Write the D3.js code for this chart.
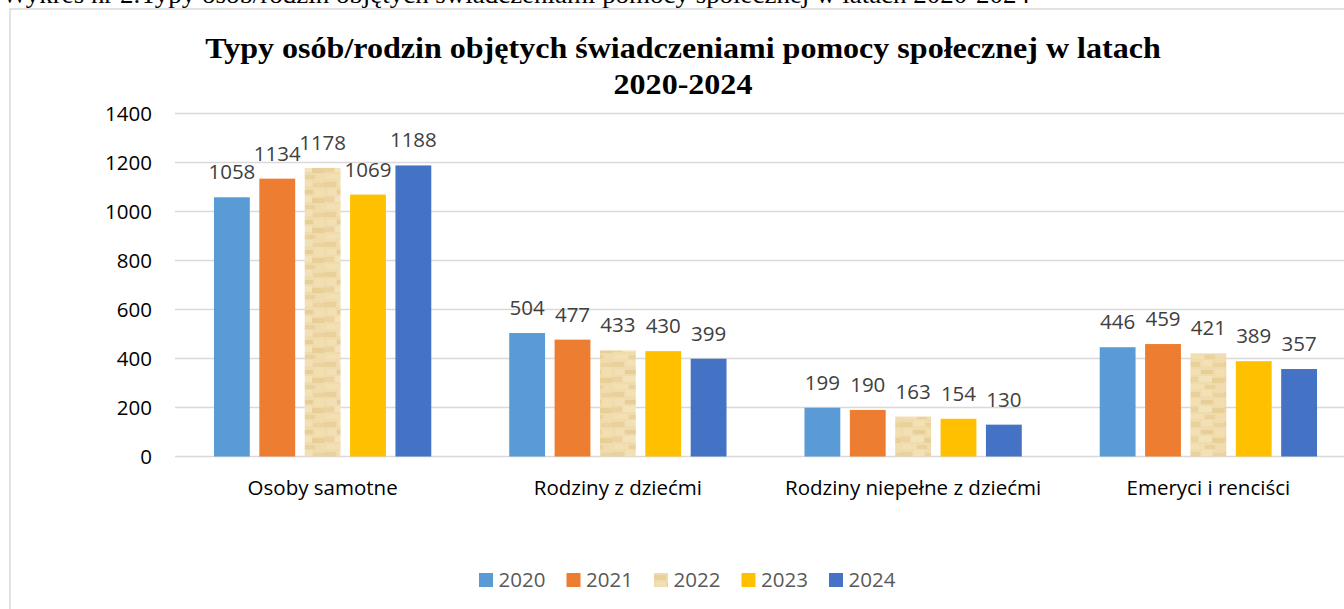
<!DOCTYPE html>
<html>
<head>
<meta charset="utf-8">
<script src="https://cdn.jsdelivr.net/npm/d3@7"></script>
<style>
  html, body { margin: 0; padding: 0; background: #fff; overflow: hidden; }
  svg { display: block; }
</style>
</head>
<body>
<svg id="chart" width="1344" height="609"></svg>
<script>
// ---- data ----
const categories = ["Osoby samotne", "Rodziny z dziećmi", "Rodziny niepełne z dziećmi", "Emeryci i renciści"];
const years = ["2020", "2021", "2022", "2023", "2024"];
const values2020 = [1058, 504, 199, 446];
const values2021 = [1134, 477, 190, 459];
const values2022 = [1178, 433, 163, 421];
const values2023 = [1069, 430, 154, 389];
const values2024 = [1188, 399, 130, 357];
const yTickValues = [0, 200, 400, 600, 800, 1000, 1200, 1400];
const seriesColors = ["#5b9bd5", "#ed7d31", "url(#papyrus)", "#ffc000", "#4472c4"];
const captionText = "Wykres nr 2.Typy osób/rodzin objętych świadczeniami pomocy społecznej w latach 2020-2024";
const titleLines = ["Typy osób/rodzin objętych świadczeniami pomocy społecznej w latach", "2020-2024"];

const series = [values2020, values2021, values2022, values2023, values2024];
const rows = [];
years.forEach((yr, si) => {
  categories.forEach((cat, ci) => rows.push({ year: yr, cat: cat, value: series[si][ci], si: si }));
});

const svg = d3.select("#chart");
const font = "'Open Sans', sans-serif";
const serif = "'Liberation Serif', 'Times New Roman', serif";

// texture for 2022
const defs = svg.append("defs");
const pat = defs.append("pattern").attr("id", "papyrus")
  .attr("patternUnits", "userSpaceOnUse").attr("width", 36).attr("height", 30);
pat.append("rect").attr("width", 36).attr("height", 30).attr("fill", "#efdbab");
const blotches = [
  [0, 2, 12, 5, "#e7cd96"], [14, 0, 10, 6, "#f3e3ba"], [25, 3, 11, 4, "#e9d09b"],
  [3, 9, 9, 6, "#f2e1b6"], [13, 10, 12, 4, "#e4c98f"], [27, 9, 9, 7, "#f1dfb2"],
  [0, 17, 10, 5, "#e9d09a"], [11, 16, 13, 6, "#f4e5bf"], [24, 18, 12, 5, "#e5ca91"],
  [2, 24, 14, 5, "#f2e0b4"], [17, 25, 10, 4, "#e8ce97"], [28, 24, 8, 6, "#f0dcae"]
];
blotches.forEach(s => pat.append("rect").attr("x", s[0]).attr("y", s[1])
  .attr("width", s[2]).attr("height", s[3]).attr("fill", s[4]).attr("opacity", 0.75));

// caption (clipped at the top)
const cap = svg.append("text").attr("x", 2).attr("y", 3)
  .attr("font-family", serif).attr("font-size", 25).attr("fill", "#000").text(captionText);
cap.attr("textLength", 1028).attr("lengthAdjust", "spacingAndGlyphs");

// chart frame
svg.append("rect").attr("x", 10).attr("y", 9).attr("width", 1400).attr("height", 700)
  .attr("fill", "#fff").attr("stroke", "#d9d9d9").attr("stroke-width", 1.5);

// title
const tl = svg.append("g").selectAll("text").data(titleLines).join("text")
  .attr("x", 683).attr("y", (d, i) => 58 + i * 36)
  .attr("text-anchor", "middle")
  .attr("font-family", serif)
  .attr("font-weight", "bold").attr("font-size", 30).attr("fill", "#000")
  .text(d => d);
tl.each(function () {
  const w = this.getComputedTextLength();
  d3.select(this).attr("textLength", w * 1.068).attr("lengthAdjust", "spacingAndGlyphs");
});

// scales
const x0 = d3.scaleBand().domain(categories).range([175, 1356]).padding(0);
const bw = x0.bandwidth();
const x1 = d3.scaleBand().domain(years).range([bw * 0.132, bw * 0.868]).paddingInner(0.21).paddingOuter(0);
const y = d3.scaleLinear().domain([0, 1400]).range([456.5, 113.5]);

// gridlines
svg.append("g").selectAll("line").data(yTickValues).join("line")
  .attr("x1", 175).attr("x2", 1356)
  .attr("y1", d => y(d)).attr("y2", d => y(d))
  .attr("stroke", "#d9d9d9").attr("stroke-width", 1.3);

// y axis labels
const yAxis = d3.axisLeft(y).tickValues(yTickValues).tickSize(0).tickPadding(0).tickFormat(d3.format("d"));
const gy = svg.append("g").attr("transform", "translate(152,0)").call(yAxis);
gy.select(".domain").remove();
gy.selectAll("text").attr("font-family", font).attr("font-size", 20.5).attr("fill", "#000");

// x axis labels
const xAxis = d3.axisBottom(x0).tickSize(0).tickPadding(0);
const gx = svg.append("g").attr("transform", "translate(0,480)").call(xAxis);
gx.select(".domain").remove();
gx.selectAll("text").attr("font-family", font).attr("font-size", 20.5).attr("fill", "#000").attr("dy", "0.71em");

// bars
svg.append("g").selectAll("rect").data(rows).join("rect")
  .attr("x", d => x0(d.cat) + x1(d.year))
  .attr("y", d => y(d.value))
  .attr("width", x1.bandwidth())
  .attr("height", d => y(0) - y(d.value))
  .attr("fill", d => seriesColors[d.si]);

// data labels
svg.append("g").selectAll("text").data(rows).join("text")
  .attr("x", d => x0(d.cat) + x1(d.year) + x1.bandwidth() / 2)
  .attr("y", d => y(d.value) - 18)
  .attr("text-anchor", "middle")
  .attr("font-family", font).attr("font-size", 20.5).attr("fill", "#404040")
  .text(d => d.value);

// legend
const legend = svg.append("g").attr("transform", "translate(479,573)");
const items = legend.selectAll("g").data(years).join("g")
  .attr("transform", (d, i) => `translate(${i * 87.5},0)`);
items.append("rect").attr("width", 14).attr("height", 14)
  .attr("fill", (d, i) => seriesColors[i]);
items.append("text").attr("x", 19.5).attr("y", 14)
  .attr("font-family", font).attr("font-size", 20.5).attr("fill", "#595959")
  .text(d => d);
</script>
</body>
</html>
